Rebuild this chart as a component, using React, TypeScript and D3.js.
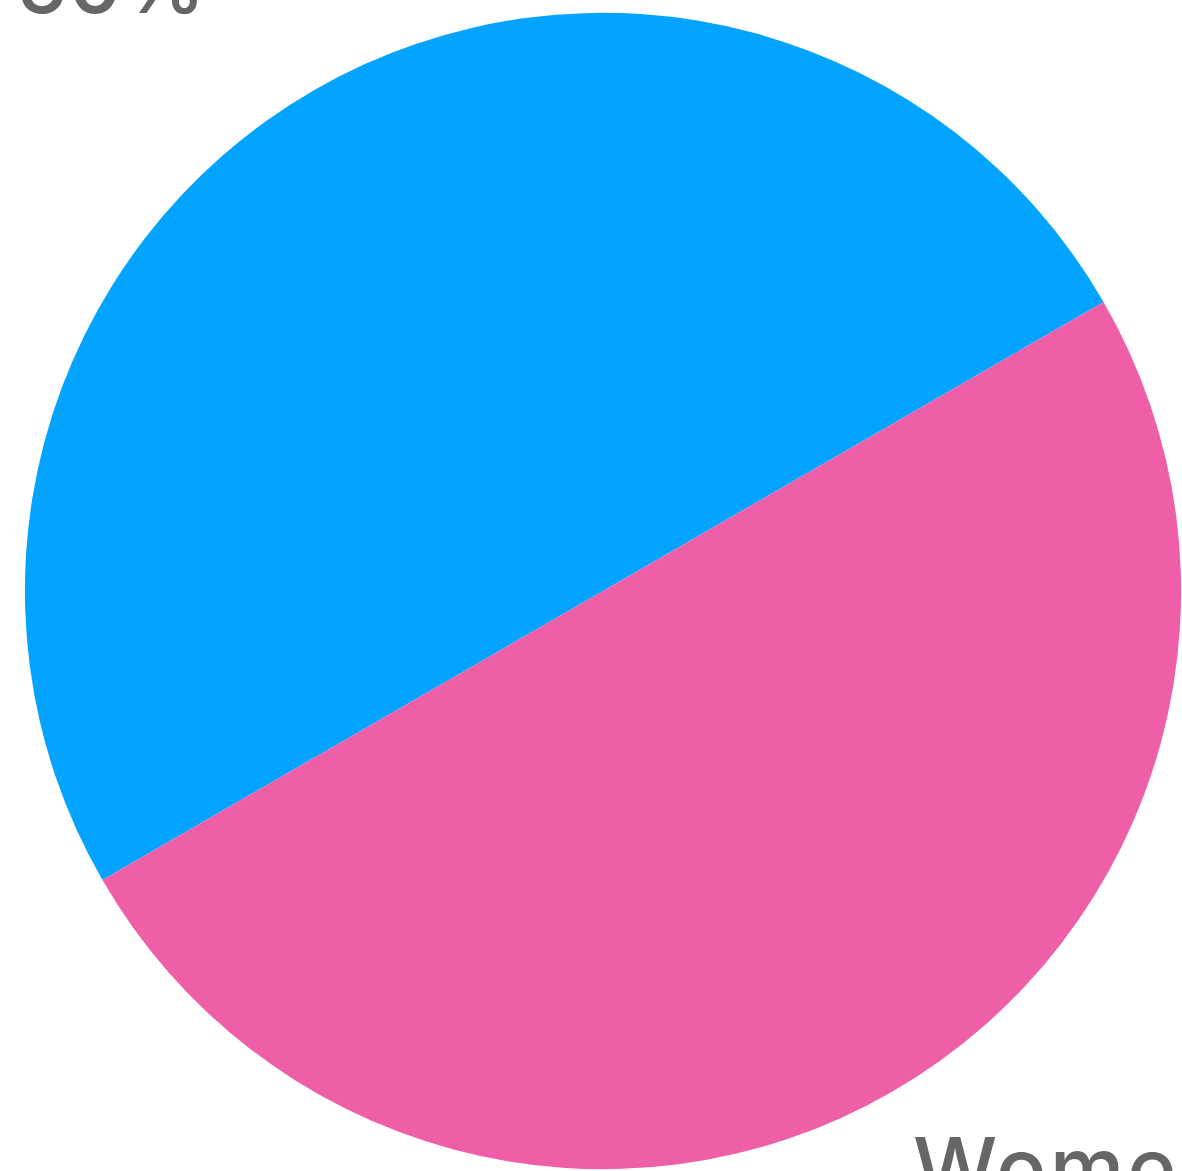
import React from "react";
import * as d3 from "d3";

const categories = ["Men", "Women"];
const values = [50, 50];
const colors = ["#02A4FF", "#EE5FA7"];
const percentLabels = ["50%", "Women"];

export default function App() {
  const width = 1182;
  const height = 1171;
  const cx = 603;
  const cy = 591;
  const r = 578;
  const pie = d3
    .pie<number>()
    .sort(null)
    .startAngle((-2 * Math.PI) / 3)
    .endAngle((4 * Math.PI) / 3)(values);
  const arc = d3.arc<d3.PieArcDatum<number>>().innerRadius(0).outerRadius(r);
  return (
    <svg
      width={width}
      height={height}
      style={{ position: "fixed", left: 0, top: 0, display: "block" }}
    >
      <rect width={width} height={height} fill="#fff" />
      <g transform={`translate(${cx},${cy})`}>
        {pie.map((d, i) => (
          <path key={categories[i]} d={arc(d) || ""} fill={colors[i]} />
        ))}
      </g>
      <text
        x={16}
        y={13}
        fontFamily="Inter, sans-serif"
        fontSize={84}
        fontWeight={500}
        fill="#666666"
      >
        {percentLabels[0]}
      </text>
      <text
        x={913}
        y={1198}
        fontFamily="Inter, sans-serif"
        fontSize={84}
        fontWeight={500}
        letterSpacing={3}
        fill="#666666"
      >
        {percentLabels[1]}
      </text>
    </svg>
  );
}
